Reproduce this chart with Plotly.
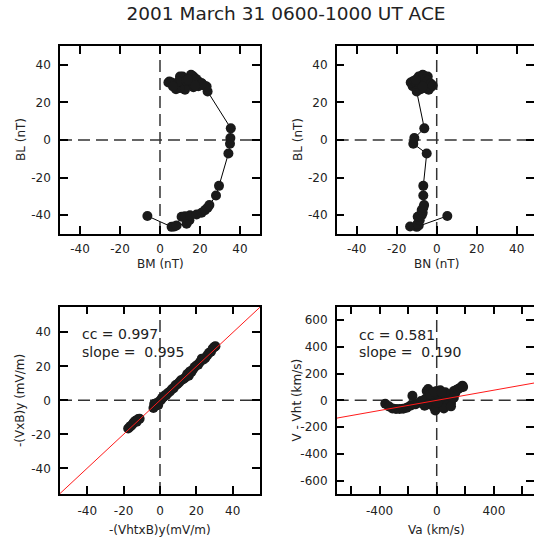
import plotly.graph_objects as go

title_text = "2001 March 31 0600-1000 UT ACE"

# ---- Panels 1-2: magnetic field time series (nT), time ordered ----
BM = [-6.3, 5.8, 7.2, 8.3, 13.3, 14.7, 10.8, 12.5, 15.0, 18.3,
      20.8, 22.5, 23.8, 24.7, 28.0, 29.5, 34.2, 35.0, 35.2, 35.4,
      23.8, 22.8, 20.8, 19.2, 16.7, 15.5, 14.7, 16.7, 19.2, 23.3,
      12.5, 11.3, 10.0, 12.5, 10.0, 8.0, 7.5, 9.2, 5.8, 4.7,
      4.2, 15.8, 18.0, 13.0, 21.0, 17.5, 14.0, 6.5]
BN = [5.3, -10.0, -13.3, -9.0, -9.5, -8.5, -9.5, -8.8, -7.5, -8.0,
      -7.0, -7.5, -6.7, -6.3, -6.7, -6.7, -5.0, -11.7, -11.2, -6.2,
      -10.0, -12.0, -12.5, -11.5, -8.0, -7.0, -5.0, -3.0, -2.5, -3.5,
      -6.0, -9.0, -4.5, -4.0, -6.0, -8.0, -10.0, -12.0, -13.0, -11.0,
      -9.0, -6.5, -5.5, -4.5, -3.0, -2.0, -10.5, -7.0]
BL = [-40.4, -46.2, -46.0, -45.5, -44.5, -42.7, -40.8, -40.5, -40.0, -39.6,
      -38.7, -37.3, -36.0, -34.6, -29.5, -24.4, -7.2, -2.0, 1.0, 6.2,
      25.8, 28.6, 30.2, 31.2, 33.8, 34.7, 29.8, 28.1, 28.6, 28.4,
      30.2, 33.8, 33.8, 26.7, 27.6, 27.0, 29.8, 31.1, 30.6, 31.1,
      30.6, 34.3, 32.5, 31.5, 30.0, 29.0, 32.0, 28.5]

# ---- Panel 3: electric fields (mV/m) ----
E_ht = [-17.5, -16.8, -16.0, -15.2, -14.5, -13.5, -12.8, -12.0, -11.2,
        -3.6, -3.2, -2.5, -1.8, -1.0, -0.3, 0.5, 1.2, 2.0, 2.8,
        3.5, 4.5, 5.5, 6.5, 7.5, 8.5, 9.5, 10.5, 11.5, 12.5,
        13.5, 14.5, 15.0, 15.8, 16.5, 17.2, 18.0, 19.0, 20.0, 21.0,
        22.0, 23.0, 24.0, 25.0, 26.0, 27.0, 28.0, 29.0, 30.0, 30.5]
E_c = [-16.5, -15.8, -15.0, -14.2, -13.0, -12.0, -12.5, -11.0, -10.8,
       -4.5, -2.2, -3.2, -1.5, -2.8, -0.5, 0.2, 1.5, 2.0, 3.0,
       3.2, 4.5, 5.2, 6.5, 7.2, 8.8, 9.5, 10.5, 11.8, 12.2,
       13.0, 14.0, 15.5, 14.5, 17.0, 16.5, 18.0, 19.5, 20.5, 21.0,
       22.5, 24.5, 24.0, 25.0, 26.5, 28.0, 28.5, 30.5, 31.5, 31.8]
cc_E, slope_E, icpt_E = 0.997, 0.995, 0.0

# ---- Panel 4: Walen test (km/s) ----
Va = [-360, -335, -310, -285, -260, -235, -210, -185, -170, -150,
      -130, -110, -95, -80, -70, -60, -50, -40, -30, -20,
      -10, 0, 10, 20, 30, 40, 50, 60, 70, 80,
      90, 100, 110, 120, 130, 140, 150, 165, 180, 185,
      -60, -30, -5, 15, 45, -45, 25, 75,
      -85, 50, 100, 60, -20, 5, 35, 120]
dV = [-25, -45, -60, -65, -65, -62, -55, -40, 35, -30,
      -20, -5, -10, 10, 70, 85, 60, 30, -20, -50,
      -75, 70, 55, 20, -40, 10, 30, -15, 25, -30,
      10, -20, 40, 70, 55, 80, 85, 95, 110, 100,
      -30, 40, -50, -10, -30, 45, 75, -35,
      -40, -60, -45, 60, 65, -20, 60, 20]
cc_W, slope_W, icpt_W = 0.581, 0.190, 0.0

ticks_B = [-40, -20, 0, 20, 40]
ticks_B_text = ["-40", "-20", "0", "20", "40"]
ticks_Vx = [-600, -400, -200, 0, 200, 400, 600]
ticks_Vx_text = ["", "-400", "", "0", "", "400", ""]
ticks_Vy = [-600, -400, -200, 0, 200, 400, 600]
ticks_Vy_text = ["-600", "-400", "-200", "0", "200", "400", "600"]

FONT = "DejaVu Sans"
TXT = "#222222"
MK = "#1a1a1a"
MSIZE = 10

range_x = {1: [-50, 50], 2: [-50, 48.65], 3: [-55, 55], 4: [-700, 681]}
range_y = {1: [-50, 50], 2: [-50, 50], 3: [-55, 55], 4: [-700, 700]}

fig = go.Figure()

fig.add_trace(go.Scatter(x=BM, y=BL, mode="lines+markers", xaxis="x", yaxis="y",
                         line=dict(color="black", width=1),
                         marker=dict(size=MSIZE, color=MK), showlegend=False))
fig.add_trace(go.Scatter(x=BN, y=BL, mode="lines+markers", xaxis="x2", yaxis="y2",
                         line=dict(color="black", width=1),
                         marker=dict(size=MSIZE, color=MK), showlegend=False))
fig.add_trace(go.Scatter(x=E_ht, y=E_c, mode="markers", xaxis="x3", yaxis="y3",
                         marker=dict(size=MSIZE, color=MK), showlegend=False))
fig.add_trace(go.Scatter(x=Va, y=dV, mode="markers", xaxis="x4", yaxis="y4",
                         marker=dict(size=MSIZE, color=MK), showlegend=False))

# fit lines across each axis range
fx3 = range_x[3]
fig.add_trace(go.Scatter(x=fx3, y=[slope_E * v + icpt_E for v in fx3], mode="lines",
                         xaxis="x3", yaxis="y3", line=dict(color="#ff1a1a", width=1),
                         showlegend=False, cliponaxis=True))
fx4 = range_x[4]
fig.add_trace(go.Scatter(x=fx4, y=[slope_W * v + icpt_W for v in fx4], mode="lines",
                         xaxis="x4", yaxis="y4", line=dict(color="#ff1a1a", width=1),
                         showlegend=False, cliponaxis=True))

dom_xl = [0, 200 / 474]
dom_xr = [(336.7 - 60) / 474, 1]
dom_yt = [(494 - 234) / 448, 1]
dom_yb = [0, (494 - 306.7) / 448]

common = dict(showline=True, linewidth=1.5, linecolor="black", mirror="ticks",
              ticks="inside", ticklen=8, tickwidth=1.5, tickcolor="black",
              showgrid=False, zeroline=False, automargin=False,
              tickfont=dict(family=FONT, size=12, color=TXT))

def ax(dom, rng, tv, tt, anchor, standoff):
    d = dict(common)
    d.update(domain=dom, range=rng, tickmode="array", tickvals=tv, ticktext=tt,
             anchor=anchor, ticklabelstandoff=standoff)
    return d

fig.update_layout(
    width=534, height=546, autosize=False,
    margin=dict(l=60, r=0, t=46, b=52, pad=0),
    paper_bgcolor="white", plot_bgcolor="white",
    font=dict(family=FONT, size=12, color=TXT),
    title=dict(text=title_text, x=286 / 534, xref="container", xanchor="center",
               y=1 - 14 / 546, yref="container", yanchor="middle",
               font=dict(family=FONT, size=18.5, color=TXT)),
    xaxis=ax(dom_xl, range_x[1], ticks_B, ticks_B_text, "y", 3),
    yaxis=ax(dom_yt, range_y[1], ticks_B, ticks_B_text, "x", 5),
    xaxis2=ax(dom_xr, range_x[2], ticks_B, ticks_B_text, "y2", 3),
    yaxis2=ax(dom_yt, range_y[2], ticks_B, ticks_B_text, "x2", 5),
    xaxis3=ax(dom_xl, range_x[3], ticks_B, ticks_B_text, "y3", 5),
    yaxis3=ax(dom_yb, range_y[3], ticks_B, ticks_B_text, "x3", 5),
    xaxis4=ax(dom_xr, range_x[4], ticks_Vx, ticks_Vx_text, "y4", 5),
    yaxis4=ax(dom_yb, range_y[4], ticks_Vy, ticks_Vy_text, "x4", 5),
)

# dashed zero lines
shapes = []
for i in ["", "2", "3", "4"]:
    shapes.append(dict(type="line", xref="x" + i, yref=("y" + i) + " domain",
                       x0=0, x1=0, y0=0, y1=1, layer="below",
                       line=dict(color="#333333", width=1.5, dash="12px,6px")))
    shapes.append(dict(type="line", xref=("x" + i) + " domain", yref="y" + i,
                       x0=0, x1=1, y0=0, y1=0, layer="below",
                       line=dict(color="#333333", width=1.5, dash="12px,6px")))
fig.update_layout(shapes=shapes)

def px(x):
    return (x - 60) / 474

def py(y):
    return (494 - y) / 448

ann = []
def txt(text, x, y, angle=0, xanchor="center", size=12):
    ann.append(dict(text=text, x=px(x), y=py(y), xref="paper", yref="paper",
                    showarrow=False, textangle=angle, xanchor=xanchor, yanchor="middle",
                    font=dict(family=FONT, size=size, color=TXT)))

txt("BM (nT)", 160, 264)
txt("BN (nT)", 436.7, 264)
txt("-(VhtxB)y(mV/m)", 160, 530)
txt("Va (km/s)", 436.7, 530)
txt("BL (nT)", 21, 140, -90)
txt("BL (nT)", 298, 140, -90)
txt("-(VxB)y (mV/m)", 20.7, 400.3, -90)
txt("V - Vht (km/s)", 297.3, 400.3, -90)

txt("cc = %.3f" % cc_E, 80, 334.3, xanchor="left", size=14)
txt("slope = \u00a0%.3f" % slope_E, 80, 351.7, xanchor="left", size=14)
txt("cc = %.3f" % cc_W, 357.3, 335, xanchor="left", size=14)
txt("slope = \u00a0%.3f" % slope_W, 357.3, 352, xanchor="left", size=14)

fig.update_layout(annotations=ann)

fig.write_html("out.html",
               config={"displayModeBar": False},
               post_script="document.body.style.margin='0';document.body.style.padding='0';")
